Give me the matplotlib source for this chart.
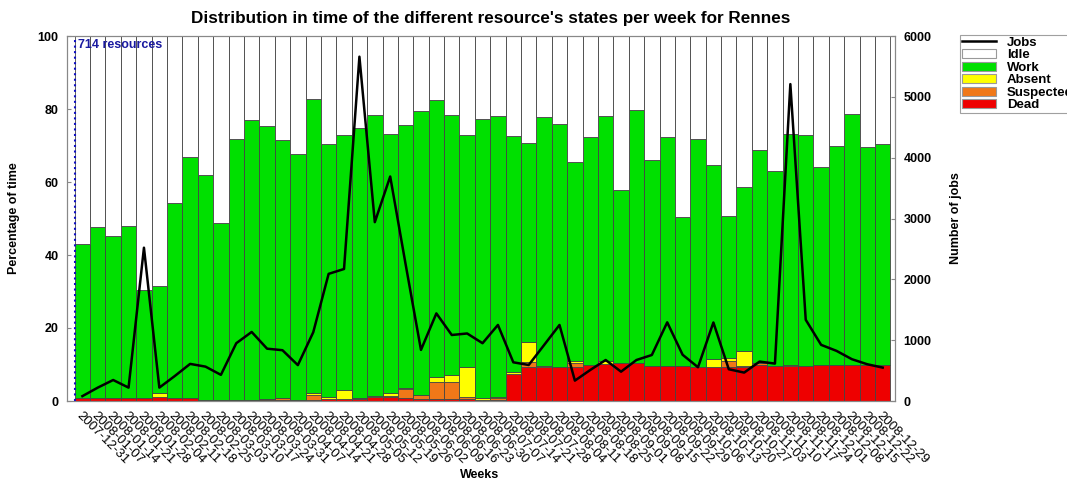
import matplotlib
matplotlib.use("Agg")
import matplotlib.pyplot as plt
from matplotlib.patches import Patch
from matplotlib.lines import Line2D
import numpy as np

plt.rcParams['font.family'] = ['Liberation Sans', 'DejaVu Sans']

weeks = ["2007-12-31", "2008-01-07", "2008-01-14", "2008-01-21", "2008-01-28",
         "2008-02-04", "2008-02-11", "2008-02-18", "2008-02-25", "2008-03-03",
         "2008-03-10", "2008-03-17", "2008-03-24", "2008-03-31", "2008-04-07",
         "2008-04-14", "2008-04-21", "2008-04-28", "2008-05-05", "2008-05-12",
         "2008-05-19", "2008-05-26", "2008-06-02", "2008-06-09", "2008-06-16",
         "2008-06-23", "2008-06-30", "2008-07-07", "2008-07-14", "2008-07-21",
         "2008-07-28", "2008-08-04", "2008-08-11", "2008-08-18", "2008-08-25",
         "2008-09-01", "2008-09-08", "2008-09-15", "2008-09-22", "2008-09-29",
         "2008-10-06", "2008-10-13", "2008-10-20", "2008-10-27", "2008-11-03",
         "2008-11-10", "2008-11-17", "2008-11-24", "2008-12-01", "2008-12-08",
         "2008-12-15", "2008-12-22", "2008-12-29"]

dead = [0.8, 0.8, 0.8, 0.8, 0.8, 1.2, 0.8, 0.8, 0.3, 0.2,
        0.2, 0.2, 0.2, 0.2, 0.3, 0.3, 0.5, 0.5, 0.5, 1.2,
        1.2, 0.9, 0.5, 0.5, 0.5, 0.5, 0.3, 0.4, 7.4, 9.4,
        9.2, 9.2, 9.4, 9.8, 10.1, 10.3, 10.3, 9.7, 9.7, 9.7,
        9.4, 9.3, 9.3, 9.3, 10.0, 9.6, 9.6, 9.7, 9.8, 10.0,
        9.9, 9.9, 9.9]
suspected = [0, 0, 0, 0, 0, 0, 0, 0, 0, 0,
             0, 0, 0.3, 0.6, 0, 1.4, 0, 0, 0.4, 0,
             0.2, 2.4, 1.1, 4.6, 4.8, 0.6, 0, 0.5, 0, 1.2,
             0, 0, 1.0, 0, 0, 0, 0, 0, 0, 0,
             0, 0, 1.6, 0.3, 0.3, 0, 0, 0, 0, 0,
             0, 0, 0]
absent = [0, 0, 0, 0, 0, 1.1, 0, 0, 0, 0,
          0, 0, 0, 0, 0, 0.5, 0.6, 2.6, 0, 0.2,
          0.9, 0.3, 0.1, 1.4, 1.8, 8.1, 0.4, 0.3, 0.5, 5.5,
          0.5, 0.2, 0.5, 0, 0.8, 0, 0.2, 0, 0, 0,
          0, 2.1, 0.9, 4.1, 0, 0, 0.3, 0, 0, 0,
          0, 0, 0]
work = [42.2, 46.8, 44.4, 47.1, 29.6, 29.3, 53.4, 66.1, 61.6, 48.7,
        71.6, 76.8, 74.9, 70.8, 67.4, 80.5, 69.3, 69.8, 74.0, 77.0,
        70.9, 72.1, 77.8, 76.0, 71.3, 63.8, 76.6, 76.8, 64.7, 54.6,
        68.1, 66.5, 54.6, 62.5, 67.1, 47.5, 69.3, 56.4, 62.6, 40.7,
        62.4, 53.3, 38.8, 44.9, 58.4, 53.5, 63.3, 63.2, 54.3, 59.8,
        68.6, 59.7, 60.5]
idle = [57.0, 52.4, 54.8, 52.1, 69.6, 68.4, 45.8, 33.1, 38.1, 51.1,
        28.2, 23.0, 24.6, 28.4, 32.3, 17.3, 29.6, 27.1, 25.1, 21.6,
        26.8, 24.3, 20.5, 17.5, 21.6, 27.0, 22.7, 22.0, 27.4, 29.3,
        22.2, 24.1, 34.5, 27.7, 22.0, 42.2, 20.2, 33.9, 27.7, 49.6,
        28.2, 35.3, 49.4, 41.4, 31.3, 36.9, 26.8, 27.1, 35.9, 30.2,
        21.5, 30.4, 29.6]
jobs = [80, 220, 345, 220, 2520, 220, 410, 610, 565, 430,
        950, 1135, 860, 835, 590, 1130, 2090, 2170, 5660, 2940,
        3690, 2250, 840, 1440, 1085, 1110, 950, 1250, 636, 592,
        920, 1250, 335, 510, 674, 482, 674, 756, 1293, 760,
        555, 1291, 522, 467, 648, 615, 5209, 1335, 923, 824,
        687, 604, 549]

series = [("Dead", dead, "#ee0000"),
          ("Suspected", suspected, "#f07818"),
          ("Absent", absent, "#ffff00"),
          ("Work", work, "#00e000"),
          ("Idle", idle, "#ffffff")]

W, H = 1067, 482
fig = plt.figure(figsize=(W/100, H/100), dpi=100)
ax = fig.add_axes([67/W, 1-401/H, (895-67)/W, 365/H])
x = np.arange(len(weeks))
bottom = np.zeros(len(weeks))
for name, vals, col in series:
    v = np.array(vals)
    ax.bar(x, v, width=1.0, bottom=bottom, color=col, edgecolor="#444444",
           linewidth=0.6, zorder=2)
    bottom += v

ax.set_xlim(-1.0, len(weeks) - 0.5 + 0.3)
ax.set_ylim(0, 100)
ax.set_yticks([0, 20, 40, 60, 80, 100])
ax.set_xticks(x)
ax.set_xticklabels(weeks, rotation=-45, ha="left", va="top",
                   rotation_mode="anchor", fontsize=9.5)
ax.tick_params(axis="x", length=0, pad=6)
ax.tick_params(axis="y", direction="in", length=3, color="#888888",
               labelsize=9, pad=6)
for lbl in ax.get_yticklabels():
    lbl.set_fontweight("bold")
for s in ax.spines.values():
    s.set_color("#888888")
ax.set_ylabel("Percentage of time", fontsize=9, fontweight="bold")
ax.yaxis.set_label_coords(-(67-20)/(895-67), 0.5)
ax.set_xlabel("Weeks", fontsize=9, fontweight="bold", labelpad=0)
ax.xaxis.set_label_coords((480-67)/(895-67), -(469-401)/365)

ax.axvline(-0.5, color="#1010c0", linestyle=":", linewidth=1.5, zorder=5)
ax.text(-0.3, 97.5, "714 resources", color="#1a1aa0", fontsize=9,
        fontweight="bold", va="center", ha="left", zorder=6)

ax2 = ax.twinx()
ax2.plot(x, jobs, color="black", linewidth=1.8, zorder=3)
ax2.set_ylim(0, 6000)
ax2.set_yticks([0, 1000, 2000, 3000, 4000, 5000, 6000])
ax2.tick_params(axis="y", direction="in", length=3, color="#888888",
                labelsize=9, pad=6)
for lbl in ax2.get_yticklabels():
    lbl.set_fontweight("bold")
for s in ax2.spines.values():
    s.set_color("#888888")
ax2.set_ylabel("Number of jobs", fontsize=9, fontweight="bold")
ax2.yaxis.set_label_coords(1 + (950-895)/(895-67), 0.5)

fig.text(491/W, 1-23/H, "Distribution in time of the different resource's states per week for Rennes",
         ha="center", va="baseline", fontsize=12.3, fontweight="bold")

handles = [Line2D([0], [0], color="black", linewidth=1.8)]
labels = ["Jobs"]
for name, vals, col in reversed(series):
    handles.append(Patch(facecolor=col, edgecolor="#999999", linewidth=0.8))
    labels.append(name)
leg = fig.legend(handles, labels, loc="upper left",
                 bbox_to_anchor=(960/W, 1-35/H), fontsize=9.5,
                 frameon=True, fancybox=False, handlelength=2.6,
                 handleheight=0.65, labelspacing=0.03, borderpad=0.15,
                 handletextpad=0.8, borderaxespad=0)
leg.get_frame().set_edgecolor("#888888")
leg.get_frame().set_linewidth(0.8)
for t in leg.get_texts():
    t.set_fontweight("bold")

fig.savefig("out.png", dpi=100)
